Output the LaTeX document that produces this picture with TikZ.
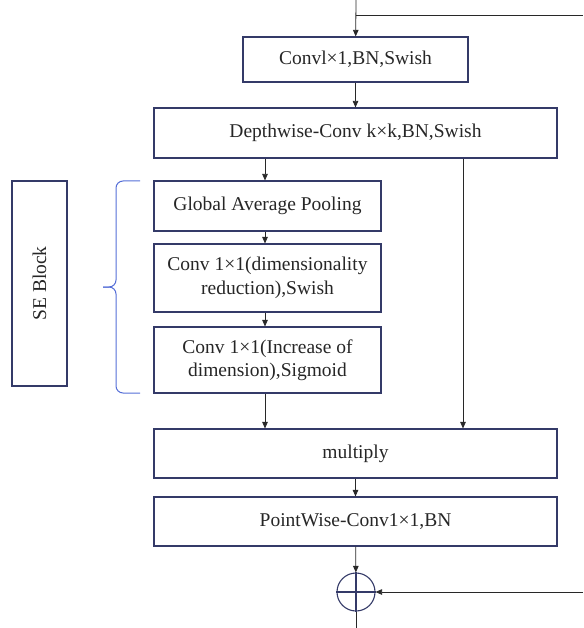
\documentclass[tikz,border=0pt]{standalone}
\usepackage{fontspec}
\setmainfont{Liberation Serif}
\usetikzlibrary{arrows.meta, positioning}
\definecolor{boxnavy}{RGB}{52,58,104}
\definecolor{braceblue}{RGB}{85,110,215}
\definecolor{linegray}{RGB}{40,40,40}

\begin{document}
\begin{tikzpicture}[
    x=1pt, y=1pt,
    box/.style={rectangle, draw=boxnavy, line width=1.1pt, minimum width=403pt, minimum height=49pt, align=center, font=\fontsize{19.5}{23.5}\selectfont, text=black!85, inner sep=0pt},
    sebox/.style={box, minimum width=227pt},
    addnode/.style={circle, draw=boxnavy, line width=1.1pt, minimum size=38pt, inner sep=0pt},
    arrow/.style={-{Triangle[length=6.5pt, width=5.5pt]}, line width=0.8pt, linegray},
    plain/.style={line width=0.8pt, linegray},
    bracket/.style={braceblue, line width=1pt, rounded corners=7pt}
]
\clip (0,0) rectangle (583,-628);

% Main path
\node[box, minimum width=225pt, minimum height=45pt] (conv) at (355.5,-59.5) {Convl×1,BN,Swish};
\node[box, minimum height=50pt] (dwconv) at (355.5,-133) {Depthwise-Conv k×k,BN,Swish};

% SE block
\node[sebox, minimum height=50pt] (gap) at (267.5,-206) {Global Average Pooling};
\node[sebox, minimum height=68pt] (reduce) at (267.5,-278) {Conv 1×1(dimensionality\\reduction),Swish};
\node[sebox, minimum height=66pt] (expand) at (267.5,-360) {Conv 1×1(Increase of\\dimension),Sigmoid};
\node[box, minimum width=55pt, minimum height=205pt] (se) at (39.5,-283.5) {\rotatebox{90}{SE Block}};

% Output
\node[box] (mult) at (355.5,-453.5) {multiply};
\node[box] (pw) at (355.5,-521.5) {PointWise-Conv1×1,BN};
\node[addnode] (add) at (356,-592) {};
\draw[boxnavy, line width=1.1pt] (add.north) -- (add.south) (add.west) -- (add.east);

% Ends
\coordinate (in) at (356,0);
\coordinate (split) at (356,-15);
\coordinate (skipin) at (583,-15);
\coordinate (skipout) at (583,-592);
\coordinate (out) at (356,-636);

% Arrows
\draw[arrow] (in) -- (conv);
\draw[plain] (split) -- (skipin);
\draw[arrow] (conv) -- (dwconv);
\draw[arrow] (265,0 |- dwconv.south) -- (265,0 |- gap.north);
\draw[arrow] (265,0 |- gap.south) -- (265,0 |- reduce.north);
\draw[arrow] (265,0 |- reduce.south) -- (265,0 |- expand.north);
\draw[arrow] (265,0 |- expand.south) -- (265,0 |- mult.north);
\draw[arrow] (463,0 |- dwconv.south) -- (463,0 |- mult.north);
\draw[arrow] (mult) -- (pw);
\draw[arrow] (pw) -- (add);
\draw[arrow] (skipout) -- (add);
\draw[arrow] (add) -- (out);

% Brace
\coordinate (btop) at (140,-181);
\coordinate (bbot) at (140,-393);
\coordinate (btip) at (103,-287);
\draw[bracket] (btop) -- (116,-181) -- (116,-287) -- (btip);
\draw[bracket] (bbot) -- (116,-393) -- (116,-287) -- (btip);

\end{tikzpicture}
\end{document}
